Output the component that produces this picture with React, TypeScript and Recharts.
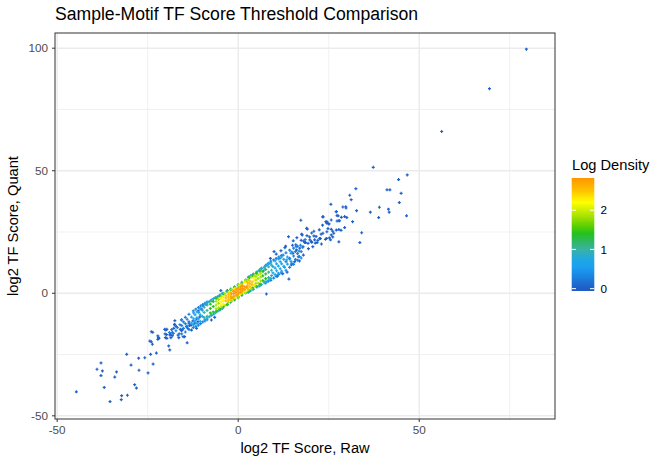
import React from 'react';
import { ScatterChart, Scatter, XAxis, YAxis, CartesianGrid } from 'recharts';

// axis ticks and grid values
const xTicks = [-50, 0, 50];
const yTicks = [-50, 0, 50, 100];
const xMinor = [-25, 25, 75];
const yMinor = [-25, 25, 75];
const legendTicks = [0, 1, 2];

// points grouped by their log density
const sparsePts: [number, number][] = [
  [79.6, 99.6], [69.4, 83.5], [56.2, 66.0],
  [37.3, 51.4], [44.3, 46.4], [46.7, 48.3], [32.5, 42.7], [41.1, 42.2], [41.9, 42.2], [45.0, 40.8],
  [30.8, 40.0], [31.2, 38.2], [25.6, 36.3], [28.9, 35.2], [29.8, 34.8], [32.7, 33.7], [39.0, 35.1],
  [41.5, 34.3], [41.7, 33.1], [36.5, 33.1], [38.8, 30.9], [44.5, 37.0], [46.5, 31.6], [27.1, 33.3],
  [27.6, 31.6], [27.8, 29.6], [27.3, 29.5], [30.0, 30.9], [31.6, 29.2], [23.4, 31.1], [17.3, 29.8],
  [18.9, 26.5], [23.3, 27.8], [24.4, 28.7], [24.9, 28.4], [24.5, 29.2], [26.1, 25.3], [24.8, 26.4],
  [27.8, 26.0], [28.4, 25.7], [29.4, 26.8], [34.1, 24.7], [20.9, 25.3], [22.9, 24.1], [20.9, 23.4],
  [19.0, 23.5], [17.7, 23.8], [25.7, 23.8], [26.1, 23.0], [25.2, 22.6], [24.1, 22.0], [22.7, 22.3],
  [22.0, 21.6], [27.8, 21.0], [33.6, 20.7], [19.8, 21.8], [20.3, 20.8], [21.3, 20.5], [18.6, 20.7],
  [18.1, 21.3],
  [13.9, 23.1], [13.1, 19.2], [15.0, 19.6], [15.9, 19.8], [16.2, 22.7], [17.5, 24.1], [19.1, 26.2],
  [20.3, 24.6], [15.1, 16.3], [16.1, 17.7], [17.0, 18.4], [17.9, 19.0], [18.4, 20.7], [19.3, 20.4],
  [20.2, 21.1], [21.1, 21.8], [21.8, 20.7], [16.6, 14.9], [14.2, 14.3], [15.6, 12.9], [14.7, 11.6],
  [14.0, 5.8], [7.8, -0.3], [22.5, 22.4], [23.0, 20.1], [24.4, 22.4], [23.4, 24.5], [24.5, 25.1],
  [25.7, 26.1], [26.4, 24.5], [27.1, 25.8], [25.5, 21.8], [25.1, 28.3], [25.7, 29.9], [24.2, 29.2],
  [23.4, 31.3], [27.1, 33.3], [27.3, 31.7], [28.0, 29.6], [28.5, 31.0], [29.7, 35.3], [29.4, 31.3],
  [9.9, 17.0], [10.5, 16.0], [11.8, 17.4], [8.9, 14.2], [12.3, 8.0], [13.5, 8.6], [10.8, 6.9],
  [16.9, 13.2], [18.0, 15.6], [19.4, 18.2], [20.6, 19.0], [17.4, 21.6], [15.2, 21.4], [12.9, 18.6],
  [19.7, 23.0], [21.5, 23.2], [22.4, 25.9],
  [-4.8, 1.1], [-3.0, 1.1], [6.4, 10.2], [6.9, 9.1], [-9.7, -5.2], [-10.2, -6.4], [-8.8, -4.6],
  [-11.0, -7.2], [-7.4, -10.9], [-6.5, -9.8],
  [-44.7, -40.2], [-39.0, -31.0], [-37.9, -28.4], [-37.5, -31.7], [-37.9, -33.6], [-37.0, -38.4],
  [-35.4, -44.2], [-34.1, -34.2], [-33.6, -32.1], [-32.2, -41.8], [-32.3, -43.4], [-30.6, -41.6],
  [-30.8, -24.9], [-29.6, -29.3], [-28.6, -37.3], [-28.1, -38.7], [-27.5, -26.5], [-27.4, -31.4],
  [-25.8, -26.3], [-24.9, -32.5], [-24.2, -24.9], [-23.5, -28.9], [-22.6, -24.4], [-23.7, -20.8],
  [-24.4, -19.5], [-23.6, -15.9], [-22.0, -18.1], [-22.2, -18.8], [-20.0, -15.0], [-20.2, -16.6],
  [-19.8, -16.9], [-19.2, -21.5], [-18.9, -23.1], [-18.7, -16.7], [-18.2, -17.3], [-17.6, -12.7],
  [-17.1, -13.6], [-16.6, -17.1], [-15.5, -15.0], [-15.2, -17.7], [-14.1, -20.2],
  [-24.0, -15.7], [-22.2, -17.4], [-21.9, -18.4], [-20.3, -14.7], [-19.7, -14.7], [-20.1, -18.1],
  [-19.7, -18.4], [-18.9, -17.0], [-18.6, -18.1], [-17.8, -14.3], [-17.5, -12.9], [-18.2, -15.9],
  [-16.4, -18.1], [-15.7, -10.9], [-16.0, -14.7], [-15.4, -14.7], [-15.7, -15.3], [-14.3, -13.6],
  [-13.9, -14.3], [-13.4, -13.2], [-12.9, -12.9], [-13.6, -12.2], [-14.8, -17.7], [-12.5, -11.3],
  [-12.0, -12.2], [-11.5, -10.5], [-11.1, -11.6], [-10.6, -9.6], [-12.9, -15.0], [-11.5, -14.3],
  [-17.5, -11.2], [-24.0, -19.8],
];

const bluePts: [number, number][] = [
  [-15.6, -16.6], [-15.6, -13.2], [-15.6, -10.8], [-14.6, -15.8], [-14.6, -12.4], [-14.6, -9.8],
  [-13.6, -14.8], [-13.6, -11.6], [-13.6, -8.6], [-12.4, -14.0], [-12.4, -7.2], [-11.0, -13.0],
  [-11.0, -5.8], [-9.8, -11.7], [-9.8, -4.6], [-8.6, -10.8], [-8.6, -3.6],
  [-9.2, -11.3], [-9.2, -4.1], [-10.4, -12.4], [-10.4, -5.2], [-11.7, -13.5], [-11.7, -6.5],
  [-14.1, -13.4], [-14.1, -10.6], [-15.1, -14.3], [-15.1, -11.7], [-16.1, -12.8],
  [7.6, 4.2], [7.6, 11.4], [9.0, 5.3], [9.0, 13.1], [10.5, 6.9], [10.5, 14.2], [11.9, 8.3],
  [11.9, 15.4], [8.3, 4.9], [8.3, 12.2], [9.8, 6.2], [9.8, 13.6], [11.2, 7.7], [11.2, 14.8],
  [13.2, 9.4], [13.2, 12.9], [13.2, 16.5], [14.2, 10.6], [14.2, 14.0], [14.2, 17.6], [15.3, 11.8],
  [15.3, 15.2], [15.3, 18.4], [16.4, 13.5], [16.4, 16.2], [16.4, 19.2], [17.4, 14.4], [17.4, 17.0],
  [15.8, 13.8], [15.8, 17.0], [16.9, 15.0], [14.8, 16.8], [14.8, 12.2],
  [-19.0, -16.0], [-18.4, -14.8], [-17.9, -16.4], [-17.2, -15.3], [-16.8, -14.0], [-16.3, -16.5],
  [17.2, 19.6], [16.8, 17.2], [17.8, 18.8], [18.5, 21.9], [16.0, 19.0], [12.4, 15.6], [11.5, 14.3],
];

const skyPts: [number, number][] = [
  [-12.3, -12.8], [-12.3, -10.4], [-12.3, -8.0], [-11.4, -12.3], [-11.4, -10.0], [-11.4, -7.6],
  [-10.5, -11.5], [-10.5, -8.8], [-10.5, -6.4], [-9.2, -10.7], [-9.2, -4.4], [-8.0, -9.6],
  [-8.0, -3.4], [-6.8, -8.5], [-6.8, -2.2], [-5.6, -7.2], [-5.6, -1.3], [-4.4, -6.2], [-4.4, -0.1],
  [-5.0, -6.7], [-5.0, -0.7], [-6.2, -7.8], [-6.2, -1.7], [-7.4, -9.1], [-7.4, -2.7],
  [-8.6, -10.2], [-8.6, -3.9],
  [-9.9, -9.4], [-9.9, -6.9], [-10.9, -10.4], [-10.9, -7.8], [-11.9, -11.3], [-11.9, -8.8],
  [-12.9, -12.2], [-12.9, -9.7],
  [2.8, 0.4], [2.8, 6.6], [4.0, 1.6], [4.0, 7.6], [5.2, 2.6], [5.2, 8.8], [6.4, 3.5], [6.4, 10.1],
  [7.2, 4.3], [7.2, 10.7], [8.0, 4.9], [8.0, 11.6], [9.0, 6.0], [9.0, 12.4],
  [7.6, 4.6], [7.6, 11.2], [8.5, 5.4], [8.5, 12.0], [5.8, 3.0], [5.8, 9.4], [3.4, 1.0], [3.4, 7.1],
  [9.6, 8.3], [9.6, 10.9], [10.6, 9.2], [10.6, 12.0], [11.6, 10.0], [11.6, 12.9], [12.6, 11.0],
  [12.6, 13.8], [13.6, 11.9], [13.6, 14.8], [14.6, 13.0],
  [10.2, 7.6], [10.2, 10.3], [10.2, 13.2], [11.1, 8.2], [11.1, 11.1], [11.1, 14.0], [12.0, 9.0],
  [12.0, 12.0], [12.0, 14.8], [13.4, 13.6], [14.6, 16.3], [12.8, 10.6],
];

const tealPts: [number, number][] = [
  [-9.4, -9.9], [-9.4, -7.8], [-9.4, -5.7], [-8.6, -9.4], [-8.6, -7.0], [-8.6, -4.8],
  [-7.4, -8.8], [-7.4, -3.0], [-6.3, -7.9], [-6.3, -1.9], [-5.2, -6.8], [-5.2, -1.0],
  [-4.2, -5.9], [-4.2, 0.0], [-3.1, -4.7], [-3.1, 0.8], [-2.1, -3.7], [-2.1, 1.7], [-1.0, -2.7],
  [-1.0, 2.7], [0.0, -1.8], [0.0, 3.6], [1.0, -0.9], [1.0, 4.5], [2.1, 0.1], [2.1, 5.5],
  [3.1, 1.0], [3.1, 6.5], [4.2, 1.6], [4.2, 7.9], [5.1, 2.7], [5.1, 8.5], [6.0, 3.2], [6.0, 9.6],
  [7.2, 4.6], [7.2, 10.4],
  [8.4, 6.4], [8.4, 8.6], [8.4, 10.8], [9.2, 7.2], [9.2, 9.4], [9.2, 11.5],
];

const greenPts: [number, number][] = [
  [-7.7, -8.0], [-7.7, -6.2], [-7.7, -4.4], [-6.9, -7.6], [-6.9, -5.4], [-6.9, -3.4],
  [-6.0, -7.2], [-6.0, -2.0], [-5.0, -6.4], [-5.0, -1.1], [-4.0, -5.3], [-4.0, -0.3],
  [-3.0, -4.6], [-3.0, 0.8], [-2.0, -3.3], [-2.0, 1.4], [-1.0, -2.4], [-1.0, 2.3], [0.0, -1.4],
  [0.0, 3.2], [1.0, -0.5], [1.0, 4.1], [2.0, 0.4], [2.0, 5.1], [3.0, 0.9], [3.0, 6.3],
  [4.0, 2.2], [4.0, 7.0], [5.0, 2.8], [5.0, 8.1], [6.0, 3.8], [6.0, 9.0],
  [6.8, 5.2], [6.8, 7.1], [6.8, 9.0], [7.6, 6.0], [7.6, 7.9], [7.6, 9.7],
];

const limePts: [number, number][] = [
  [-6.1, -6.3], [-6.1, -4.8], [-6.1, -3.3], [-5.4, -5.9], [-5.4, -4.1], [-5.4, -2.5],
  [-4.6, -5.5], [-4.6, -1.2], [-3.7, -4.9], [-3.7, -0.1], [-2.7, -3.7], [-2.7, 0.5],
  [-1.8, -3.2], [-1.8, 1.6], [-0.9, -1.9], [-0.9, 2.0], [0.1, -1.5], [0.1, 3.4], [1.0, -0.1],
  [1.0, 3.7], [2.0, 0.2], [2.0, 5.2], [2.8, 1.4], [2.8, 5.5], [3.6, 1.8], [3.6, 6.6],
  [4.6, 3.0], [4.6, 7.2], [4.9, 4.0], [4.9, 5.4], [4.9, 6.8],
  [5.5, 4.2], [5.5, 6.0], [5.5, 7.6], [6.2, 5.0], [6.2, 6.6], [6.2, 8.2],
];

const yellowPts: [number, number][] = [
  [-4.7, -4.8], [-4.7, -3.5], [-4.7, -2.2], [-4.1, -4.4], [-4.1, -2.9], [-4.1, -1.5],
  [-2.4, -3.1], [-2.4, 0.5], [-0.9, -1.7], [-0.9, 1.9], [0.5, -0.4], [0.5, 3.1], [1.9, 0.9],
  [1.9, 4.4], [4.3, 3.4], [4.3, 4.9], [4.3, 6.2],
];

const goldPts: [number, number][] = [
  [-3.4, -3.2], [-3.4, -2.0], [-3.4, -1.0], [-2.7, -2.8], [-2.7, -1.6], [-2.7, -0.4],
  [-2.1, -2.3], [-2.1, -1.0], [-2.1, 0.2], [-1.5, -2.0], [-1.5, 1.0], [-0.3, -0.9], [-0.3, 2.1],
  [0.9, 0.2], [0.9, 3.2], [2.6, 2.1], [2.6, 3.3], [2.6, 4.4], [3.2, 2.7], [3.2, 3.9], [3.2, 5.0],
  [3.8, 3.5], [3.8, 4.6],
];

const orangePts: [number, number][] = [
  [-1.8, -1.7], [-1.8, -0.2], [-1.2, -1.2], [-1.2, -0.1], [-1.2, 0.8], [-0.6, -0.7], [-0.6, 0.4],
  [-0.6, 1.4], [0.0, -0.2], [0.0, 0.9], [0.0, 1.9], [0.6, 0.4], [0.6, 1.5], [0.6, 2.5], [1.2, 1.0],
  [1.2, 2.0], [1.2, 3.0], [1.8, 1.6], [1.8, 2.7], [2.3, 2.5],
];

const tierPoints = [sparsePts, bluePts, skyPts, tealPts, greenPts, limePts, yellowPts, goldPts, orangePts];
const tierDensity = [0.05, 0.3, 0.65, 1.0, 1.4, 1.85, 2.25, 2.55, 2.8];

// colour bar stops (log density -> colour)
const colorStops: [number, string][] = [
  [-0.06, '#1E5BC4'], [0.05, '#1F61C9'], [0.3, '#1B82E0'], [0.55, '#1AA0F0'], [0.75, '#1FA8E2'],
  [1.0, '#39B2A6'], [1.2, '#2FB862'], [1.4, '#22C120'], [1.6, '#5CD000'], [1.85, '#A8E200'],
  [2.2, '#FFFF00'], [2.5, '#FFC200'], [2.82, '#FF9600'],
];

const hex = (c: string) => [1, 3, 5].map((i) => parseInt(c.slice(i, i + 2), 16));
const densityColor = (d: number) => {
  for (let i = 1; i < colorStops.length; i++) {
    const [v1, c1] = colorStops[i];
    const [v0, c0] = colorStops[i - 1];
    if (d <= v1) {
      const t = Math.max(0, (d - v0) / (v1 - v0));
      const a = hex(c0);
      const b = hex(c1);
      return `rgb(${a.map((x, k) => Math.round(x + (b[k] - x) * t)).join(',')})`;
    }
  }
  return colorStops[colorStops.length - 1][1];
};

const Plus = (props: any) => {
  const { cx, cy, fill } = props;
  if (cx == null || cy == null) return null;
  return (
    <path
      d={`M${cx - 1.5},${cy}H${cx + 1.5}M${cx},${cy - 1.5}V${cy + 1.5}`}
      stroke={fill}
      strokeWidth={1.2}
    />
  );
};

const FONT = '"Liberation Sans", Arial, sans-serif';
const barTop = 178;
const barBottom = 291;
const barMax = 2.82;
const barMin = -0.06;
const barY = (v: number) => barBottom - ((v - barMin) / (barMax - barMin)) * (barBottom - barTop);

export default function App() {
  return (
    <div style={{ position: 'absolute', left: 0, top: 0, width: 664, height: 463, fontFamily: FONT, background: '#fff' }}>
      <ScatterChart width={664} height={463} margin={{ top: 33, right: 109, bottom: 0, left: 0 }}>
        <CartesianGrid horizontalValues={yMinor} verticalValues={xMinor} stroke="#EBEBEB" strokeWidth={0.7} />
        <CartesianGrid horizontalValues={yTicks} verticalValues={xTicks} stroke="#EBEBEB" strokeWidth={1.4} />
        <XAxis
          type="number"
          dataKey="x"
          domain={[-50.6, 87.5]}
          allowDataOverflow
          ticks={xTicks}
          interval={0}
          height={44}
          axisLine={false}
          tickSize={3}
          tickMargin={4}
          tickLine={{ stroke: '#333333' }}
          tick={{ fill: '#4D4D4D', fontSize: 11.7 }}
        />
        <YAxis
          type="number"
          dataKey="y"
          domain={[-51.3, 106.2]}
          allowDataOverflow
          ticks={yTicks}
          interval={0}
          width={55}
          axisLine={false}
          tickSize={3}
          tickMargin={4}
          tickLine={{ stroke: '#333333' }}
          tick={{ fill: '#4D4D4D', fontSize: 11.7 }}
        />
        {tierPoints.map((pts, i) => (
          <Scatter
            key={i}
            data={pts.map(([x, y]) => ({ x, y }))}
            fill={densityColor(tierDensity[i])}
            shape={Plus}
            isAnimationActive={false}
          />
        ))}
      </ScatterChart>
      <svg width={664} height={463} style={{ position: 'absolute', left: 0, top: 0, pointerEvents: 'none' }}>
        <defs>
          <linearGradient id="densGrad" x1="0" y1="0" x2="0" y2="1">
            {colorStops.slice().reverse().map(([v, c]) => (
              <stop key={v} offset={`${((barMax - v) / (barMax - barMin)) * 100}%`} stopColor={c} />
            ))}
          </linearGradient>
        </defs>
        <rect x={55} y={33} width={500} height={386} fill="none" stroke="#333333" strokeWidth={1} />
        <text x={55} y={20} fontSize={17.6} fill="#000" fontFamily={FONT}>
          Sample-Motif TF Score Threshold Comparison
        </text>
        <text x={305} y={453} fontSize={14.67} fill="#000" textAnchor="middle" fontFamily={FONT}>
          log2 TF Score, Raw
        </text>
        <text
          x={0}
          y={0}
          transform="translate(18,226) rotate(-90)"
          fontSize={14.67}
          fill="#000"
          textAnchor="middle"
          fontFamily={FONT}
        >
          log2 TF Score, Quant
        </text>
        <text x={572} y={170} fontSize={14.67} fill="#000" fontFamily={FONT}>
          Log Density
        </text>
        <rect x={571.7} y={barTop} width={22.6} height={barBottom - barTop} fill="url(#densGrad)" />
        {legendTicks.map((v) => (
          <g key={v}>
            <line x1={571.7} x2={576} y1={barY(v)} y2={barY(v)} stroke="#fff" strokeWidth={1} />
            <line x1={590} x2={594.3} y1={barY(v)} y2={barY(v)} stroke="#fff" strokeWidth={1} />
            <text x={600.5} y={barY(v) + 4.2} fontSize={11.7} fill="#000" fontFamily={FONT}>
              {v}
            </text>
          </g>
        ))}
      </svg>
    </div>
  );
}
